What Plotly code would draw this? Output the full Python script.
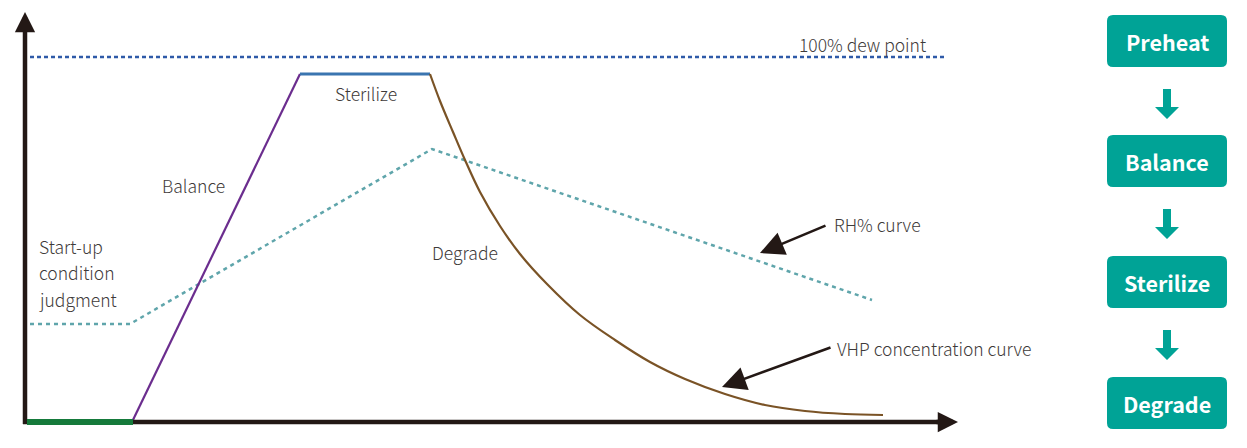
import plotly.graph_objects as go

# ---------------- data (chart units: x = time, y = level) ----------------
startup_x = [2, 108]
startup_y = [0, 0]
balance_x = [107, 275]
balance_y = [0, 348]
sterilize_x = [275, 405]
sterilize_y = [348, 348]
degrade_x = [405, 415, 428, 440, 455, 475, 495, 522, 555, 590, 625, 660, 700, 740, 780, 820, 858]
degrade_y = [348, 321, 290, 262, 230, 196, 168, 138, 107, 82, 60, 43, 28, 17, 11, 8, 7]
rh_x = [5, 105, 407, 847]
rh_y = [98, 98, 273, 122]
dew_x = [5, 922]
dew_y = [365, 365]
axis_x = [-2, 925]
axis_y = [0, 0]
yaxis_x = [0, 0]
yaxis_y = [-2, 400]

steps = ["Preheat", "Balance", "Sterilize", "Degrade"]

TEXT = "#3e3a39"
AXIS = "#231815"
FONT = "Noto Sans CJK SC"
TEAL = "#00a396"

fig = go.Figure()

def line(x, y, color, width, dash="solid", shape="linear"):
    fig.add_trace(go.Scatter(x=x, y=y, mode="lines",
                             line=dict(color=color, width=width, dash=dash, shape=shape),
                             hoverinfo="skip", showlegend=False))

line(dew_x, dew_y, "#2e5aa8", 2.5, dash="4px,3px")
line(rh_x, rh_y, "#5fa5ab", 2.5, dash="4px,4px")
line(balance_x, balance_y, "#6b2d8e", 2.2)
line(sterilize_x, sterilize_y, "#3a75b0", 3)
line(degrade_x, degrade_y, "#7a5326", 2.2, shape="spline")
line(axis_x, axis_y, AXIS, 4.5)
line(yaxis_x, yaxis_y, AXIS, 4.5)
line(startup_x, startup_y, "#157a3b", 6)

annotations = []

# axis arrowheads
annotations.append(dict(x=0, y=410, ax=0, ay=390, xref="x", yref="y", axref="x", ayref="y",
                        text="", showarrow=True, arrowhead=2, arrowwidth=4.5, arrowsize=0.9,
                        arrowcolor=AXIS, standoff=0, startstandoff=0))
annotations.append(dict(x=933, y=0, ax=910, ay=0, xref="x", yref="y", axref="x", ayref="y",
                        text="", showarrow=True, arrowhead=2, arrowwidth=4.5, arrowsize=0.9,
                        arrowcolor=AXIS, standoff=0, startstandoff=0))

# pointer arrows
for (tx, ty, hx, hy) in [(802, 197, 735, 169), (807, 75, 697, 35)]:
    annotations.append(dict(x=hx, y=hy, ax=tx, ay=ty, xref="x", yref="y", axref="x", ayref="y",
                            text="", showarrow=True, arrowhead=2, arrowwidth=2.6, arrowsize=1.85,
                            arrowcolor=AXIS, standoff=0))

labels = [
    ("100% dew point", 772, 378),
    ("Sterilize", 308, 329),
    ("Balance", 135, 237),
    ("Start-up", 12, 176),
    ("condition", 12, 150),
    ("judgment", 12, 123),
    ("Degrade", 405, 170),
    ("RH% curve", 807, 198),
    ("VHP concentration curve", 810, 74),
]
for t, x, y in labels:
    annotations.append(dict(x=x, y=y, xref="x", yref="y", text=t, showarrow=False,
                            xanchor="left", yanchor="middle",
                            font=dict(family=FONT, size=17.5, color=TEXT, weight=300)))

# flowchart on the right
shapes = []
bx0, bx1 = 1082, 1202
bh = 52
r = 6
tops = [407, 287, 166, 45]
cx = (bx0 + bx1) / 2
for i, (name, top) in enumerate(zip(steps, tops)):
    bot = top - bh
    path = (f"M{bx0+r},{top} L{bx1-r},{top} Q{bx1},{top} {bx1},{top-r} "
            f"L{bx1},{bot+r} Q{bx1},{bot} {bx1-r},{bot} L{bx0+r},{bot} "
            f"Q{bx0},{bot} {bx0},{bot+r} L{bx0},{top-r} Q{bx0},{top} {bx0+r},{top} Z")
    shapes.append(dict(type="path", path=path, xref="x", yref="y",
                       fillcolor=TEAL, line=dict(width=0), layer="above"))
    annotations.append(dict(x=cx, y=top - bh / 2, xref="x", yref="y", text=name,
                            showarrow=False, xanchor="center", yanchor="middle",
                            font=dict(family=FONT, size=21.5, color="white", weight=700)))
    if i < len(steps) - 1:
        s_top = bot - 22
        s_bot = s_top - 18
        tip = s_bot - 12
        arrow = (f"M{cx-4},{s_top} L{cx+4},{s_top} L{cx+4},{s_bot} L{cx+12},{s_bot} "
                 f"L{cx},{tip} L{cx-12},{s_bot} L{cx-4},{s_bot} Z")
        shapes.append(dict(type="path", path=arrow, xref="x", yref="y",
                           fillcolor=TEAL, line=dict(width=0)))

fig.update_layout(
    width=1247, height=448,
    margin=dict(l=0, r=0, t=0, b=0),
    paper_bgcolor="white", plot_bgcolor="white",
    xaxis=dict(range=[-25, 1222], visible=False, fixedrange=True),
    yaxis=dict(range=[-26, 422], visible=False, fixedrange=True),
    annotations=annotations, shapes=shapes,
    showlegend=False,
)

fig.write_html("out.html", config={"displayModeBar": False},
               post_script="document.body.style.margin='0';document.body.style.overflow='hidden';")
